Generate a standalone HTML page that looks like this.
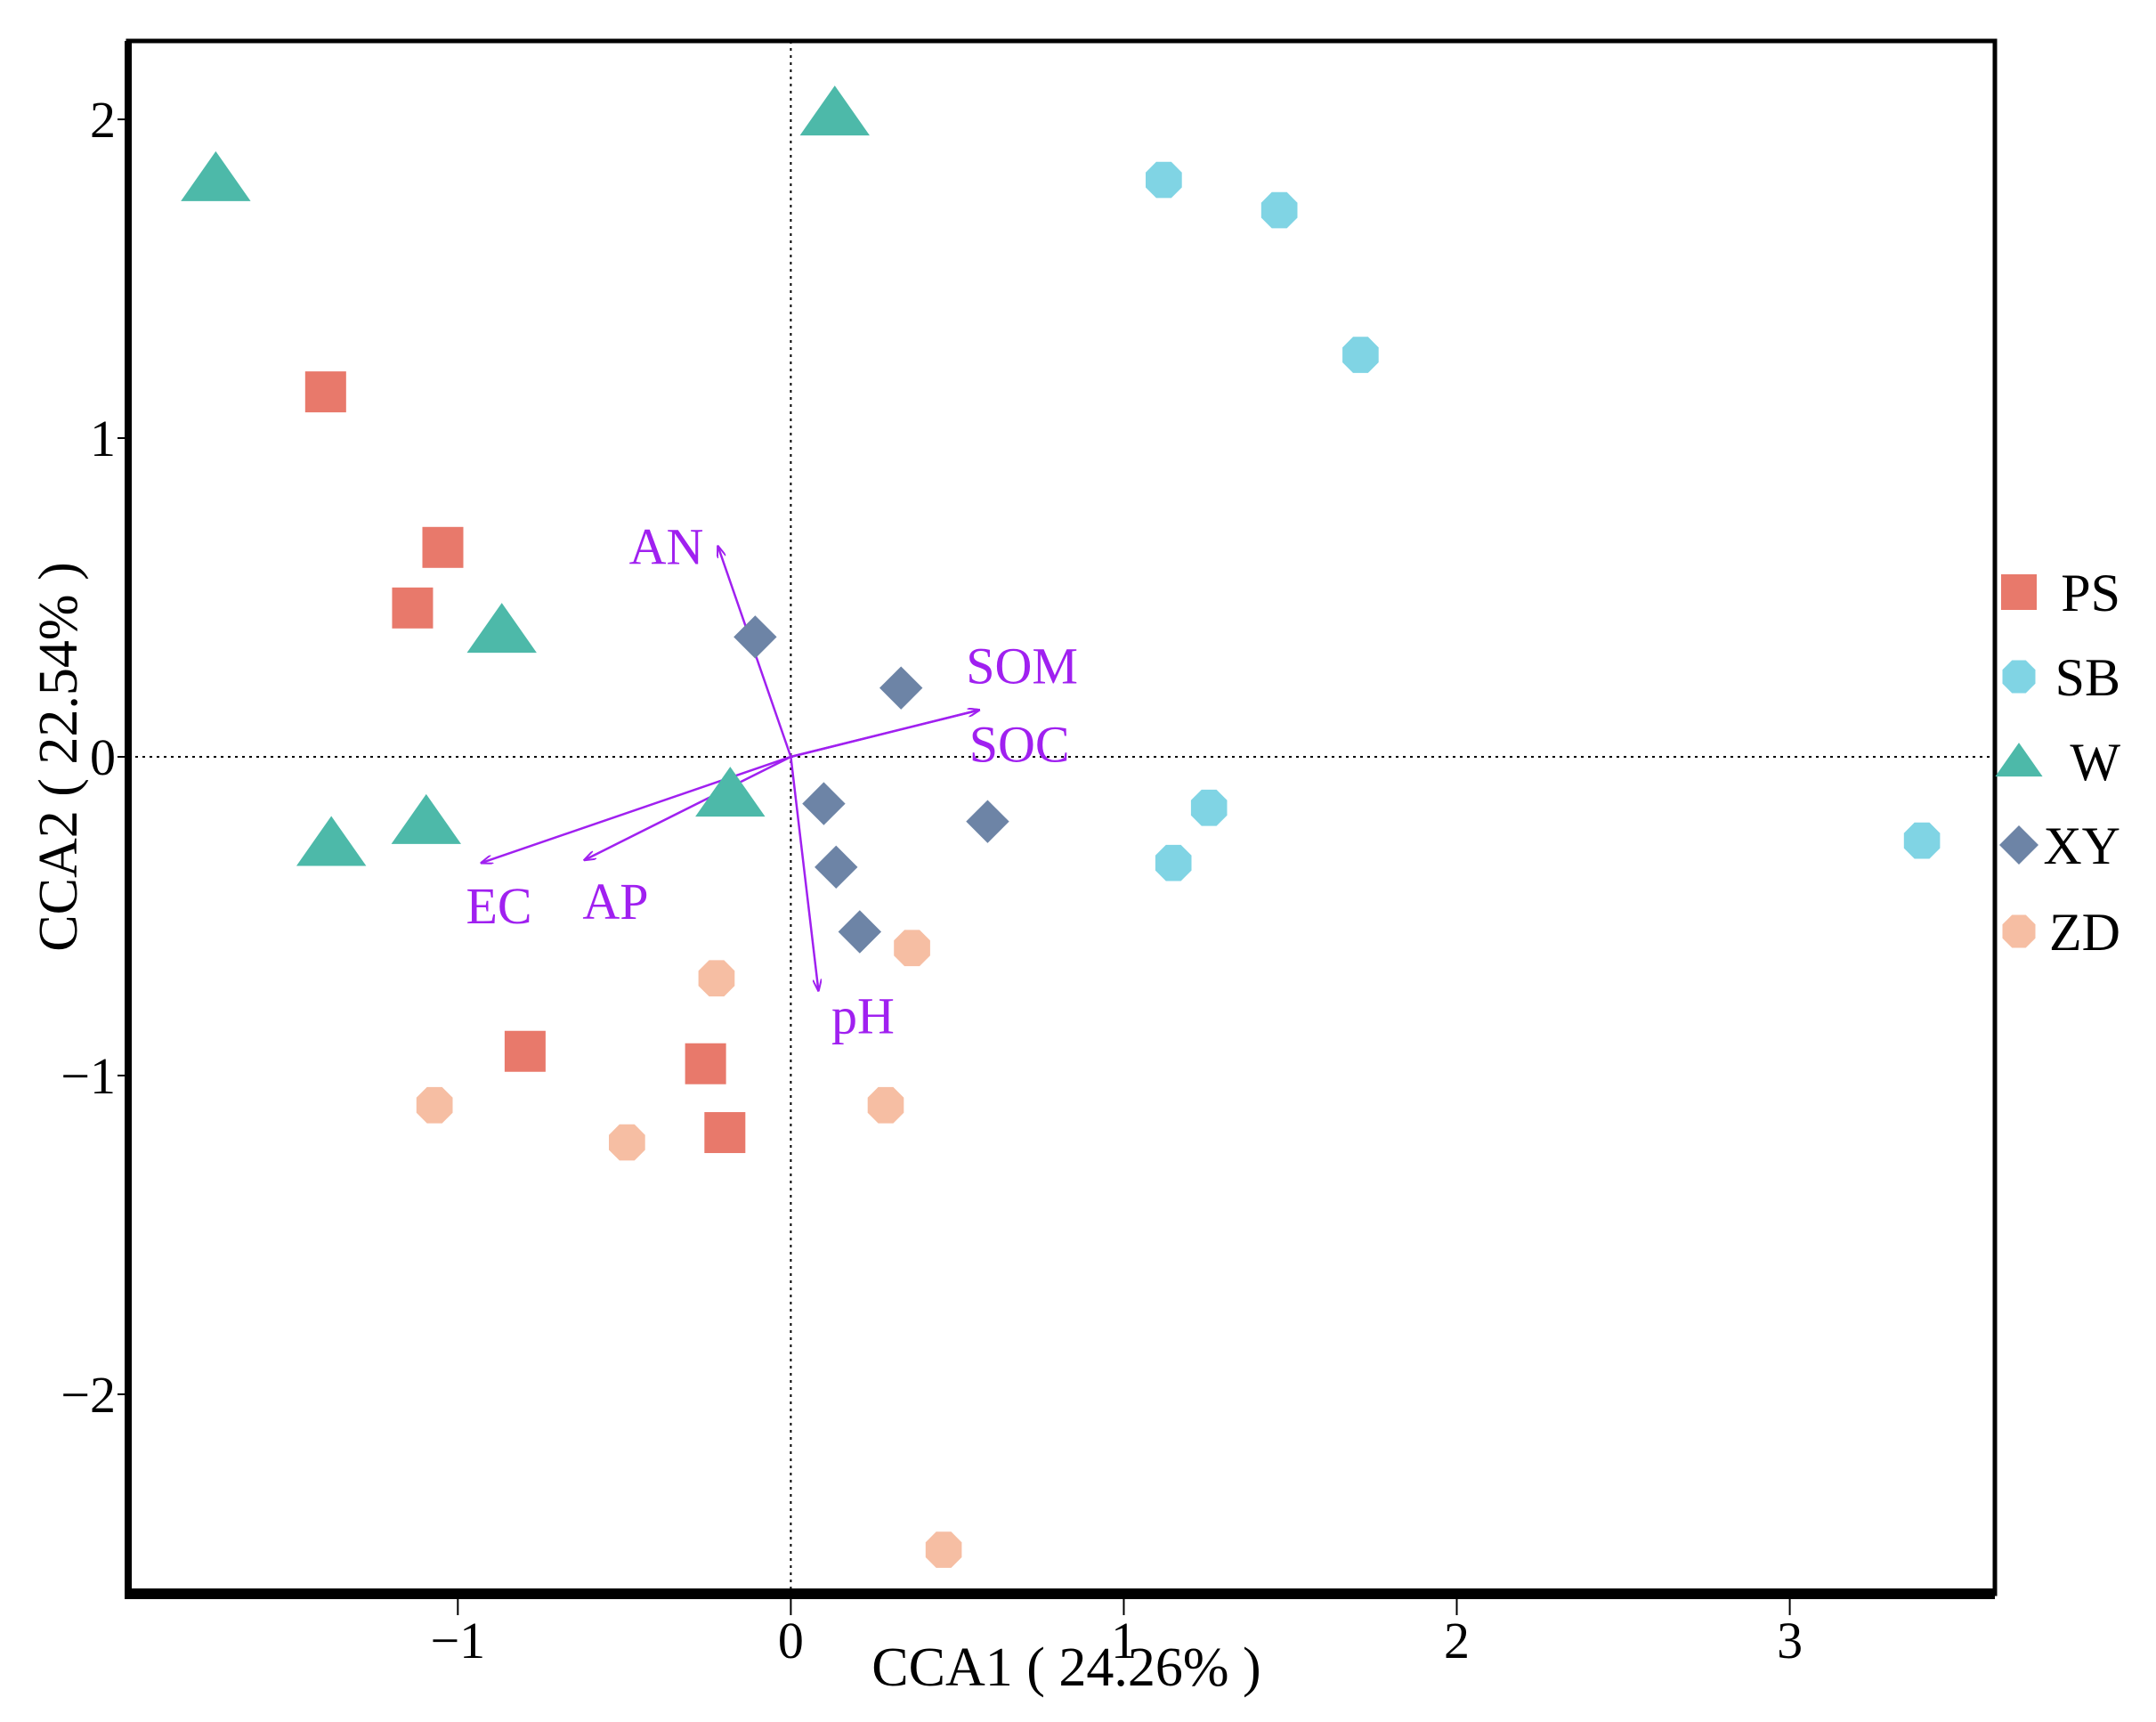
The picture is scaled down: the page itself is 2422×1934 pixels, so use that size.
<!DOCTYPE html>
<html><head><meta charset="utf-8"><style>body{margin:0;background:#fff}svg{display:block}text{font-family:"Liberation Serif",serif}</style></head>
<body>
<svg id="c" width="2422" height="1934" viewBox="0 0 2422 1934"></svg>
<script>
const xTicks=[-1,0,1,2,3];
const yTicks=[-2,-1,0,1,2];
const groups=["PS","SB","W","XY","ZD"];
const psX=[-1.397,-1.045,-1.136,-0.798,-0.256,-0.198];
const psY=[1.145,0.657,0.467,-0.924,-0.963,-1.179];
const sbX=[1.12,1.467,1.711,1.256,1.149,3.397];
const sbY=[1.81,1.715,1.261,-0.16,-0.333,-0.263];
const wX=[-1.727,0.132,-0.868,-1.095,-1.38,-0.182];
const wY=[1.814,2.02,0.397,-0.203,-0.272,-0.117];
const xyX=[-0.107,0.331,0.099,0.136,0.591,0.207];
const xyY=[0.376,0.216,-0.147,-0.346,-0.203,-0.549];
const zdX=[0.364,-0.223,0.285,-1.07,-0.492,0.459];
const zdY=[-0.6,-0.695,-1.093,-1.093,-1.21,-2.488];
const envNames=["AN","SOM","SOC","EC","AP","pH"];
const envX=[-0.219,0.566,0.566,-0.93,-0.62,0.083];
const envY=[0.661,0.147,0.147,-0.333,-0.324,-0.734];

const L=144,R=2241,T=46,B=1790,xmin=-1.99,xmax=3.616,ymin=-2.626,ymax=2.246;
const sx=v=>L+(v-xmin)/(xmax-xmin)*(R-L);
const sy=v=>B-(v-ymin)/(ymax-ymin)*(B-T);
const svg=document.getElementById('c');const NS='http://www.w3.org/2000/svg';
function mk(t,a,txt){const e=document.createElementNS(NS,t);for(const k in a)e.setAttribute(k,a[k]);if(txt!=null)e.textContent=txt;svg.appendChild(e);return e;}
let e=mk('line',{x1:sx(0),x2:sx(0),y1:T,y2:B,stroke:'#000','stroke-width':2,'stroke-dasharray':'3,5'});


e=mk('line',{x1:L,x2:R,y1:sy(0),y2:sy(0),stroke:'#000','stroke-width':2,'stroke-dasharray':'3,5'});


e=mk('rect',{x:L,y:T,width:R-L,height:B-T,fill:'none',stroke:'#000','stroke-width':5});


e=mk('line',{x1:L,x2:R,y1:B,y2:B,stroke:'#000','stroke-width':12});


e=mk('line',{x1:L,x2:L,y1:T,y2:B+6,stroke:'#000','stroke-width':8});


xTicks.forEach(v=>{
 const x=sx(v);
 let t=mk('line',{x1:x,x2:x,y1:B,y2:B+24,stroke:'#000','stroke-width':2});
 
 
 t=mk('text',{x:x,y:B+72,'font-size':58,'text-anchor':'middle'},v<0?'\u2212'+(-v):String(v));
 
 
});
yTicks.forEach(v=>{
 const y=sy(v);
 let t=mk('line',{x1:L-12,x2:L,y1:y,y2:y,stroke:'#000','stroke-width':2});
 
 
 t=mk('text',{x:L-14,y:y+20,'font-size':58,'text-anchor':'end'},v<0?'\u2212'+(-v):String(v));
 
 
});
e=mk('text',{x:1198,y:1893,'font-size':62,'text-anchor':'middle'},'CCA1 ( 24.26% )');


e=mk('text',{x:0,y:0,'font-size':62,'text-anchor':'middle',transform:'translate(86,850) rotate(-90)'},'CCA2 ( 22.54% )');


mk('defs',{}).innerHTML='<marker id="ah" markerWidth="14" markerHeight="10" refX="13" refY="5" orient="auto" markerUnits="userSpaceOnUse"><path d="M0,0 L14,5 L0,10" fill="none" stroke="#a020f0" stroke-width="2"/></marker>';
const labOff=[[-58,20],[48,-30],[45,58],[20,68],[35,66],[50,48]];
envNames.forEach((n,i)=>{
 const a=mk('line',{x1:sx(0),y1:sy(0),x2:sx(envX[i]),y2:sy(envY[i]),stroke:'#a020f0','stroke-width':2.5,'marker-end':'url(#ah)'});
 
 
 const t=mk('text',{x:sx(envX[i])+labOff[i][0],y:sy(envY[i])+labOff[i][1],'font-size':58,fill:'#a020f0','text-anchor':'middle'},n);
 
 
});
const colors={PS:'#e8796b',SB:'#80d4e4',W:'#4db9a9',XY:'#6d84a6',ZD:'#f6bea3'};
function oct(cx,cy,r){let p=[];for(let k=0;k<8;k++){const a=Math.PI/8+k*Math.PI/4;p.push((cx+r*Math.cos(a)).toFixed(1)+','+(cy+r*Math.sin(a)).toFixed(1));}return p.join(' ');}
function marker(g,cx,cy,s){
 const c=colors[g];
 if(g==='PS')return mk('rect',{x:cx-s*0.5,y:cy-s*0.5,width:s,height:s,fill:c});
 if(g==='W')return mk('polygon',{points:`${cx},${cy-s*0.55} ${cx+s*0.7},${cy+s*0.45} ${cx-s*0.7},${cy+s*0.45}`,fill:c});
 if(g==='XY')return mk('polygon',{points:`${cx},${cy-s*0.55} ${cx+s*0.55},${cy} ${cx},${cy+s*0.55} ${cx-s*0.55},${cy}`,fill:c});
 return mk('polygon',{points:oct(cx,cy,s*0.5),fill:c});
}
const data={PS:[psX,psY],SB:[sbX,sbY],W:[wX,wY],XY:[xyX,xyY],ZD:[zdX,zdY]};
groups.forEach(g=>{
 const [xs,ys]=data[g];
 xs.forEach((v,i)=>{
  const m=marker(g,sx(v),sy(ys[i]),g==='W'?56:(g==='PS'?46:44));
  
  
 });
});
const legY=[665,760,855,949,1046];
groups.forEach((g,i)=>{
 const m=marker(g,2268,legY[i],g==='W'?38:40);
 
 
 const t=mk('text',{x:2382,y:legY[i]+21,'font-size':60,'text-anchor':'end'},g);
 
 
});
</script>
</body></html>
